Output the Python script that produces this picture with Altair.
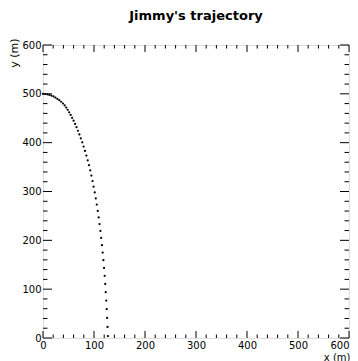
import altair as alt
import pandas as pd

# Trajectory points (x in m, y in m)
traj_x = [0.0, 4.2, 8.4, 12.5, 16.5, 20.5, 24.3, 28.1, 31.9, 35.6, 39.2, 42.5,
          45.5, 48.5, 51.3, 54.2, 57.1, 60.0, 62.9, 65.7, 68.5, 71.3, 74.1,
          76.9, 79.6, 82.4, 85.1, 87.7, 90.2, 92.6, 94.9, 97.1, 99.2, 101.4,
          103.5, 105.5, 107.4, 109.2, 110.9, 112.6, 114.1, 115.6, 117.0,
          118.4, 119.7, 120.9, 122.0, 123.0, 124.0, 124.9, 125.7, 126.5, 127.2]
traj_y = [500.0, 499.6, 498.9, 497.8, 496.4, 494.6, 492.4, 489.9, 487.0, 483.8,
          480.2, 476.2, 471.9, 467.2, 462.2, 456.8, 451.0, 444.9, 438.4, 431.6,
          424.4, 416.8, 408.9, 400.6, 392.0, 383.0, 373.6, 363.9, 353.8, 343.4,
          332.6, 321.4, 309.9, 298.0, 285.8, 273.2, 260.2, 246.9, 233.2, 219.2,
          204.8, 190.0, 174.9, 159.4, 143.6, 127.4, 110.8, 93.9, 76.6, 59.0,
          41.0, 22.6, 3.9]

major_ticks = [0, 100, 200, 300, 400, 500, 600]
minor_ticks = [20, 40, 60, 80, 120, 140, 160, 180, 220, 240, 260, 280,
               320, 340, 360, 380, 420, 440, 460, 480, 520, 540, 560, 580]

W, H = 306, 293
FONT = "DejaVu Sans"

sx = alt.Scale(domain=[0, 600], nice=False, zero=False)
sy = alt.Scale(domain=[0, 600], nice=False, zero=False)

ax_x = alt.Axis(values=major_ticks, format="d", title="x (m)",
                titleAlign="right", titleX=307, titleY=22,
                titleBaseline="alphabetic", titleFont=FONT, titleFontSize=10,
                titleFontWeight="normal", titleColor="black",
                labelFont=FONT, labelFontSize=10, labelColor="black",
                labelAlign={"condition": {"test": "datum.value == 600", "value": "right"},
                            "value": "center"},
                labelPadding=2, labelFlush=False, labelOverlap=False,
                ticks=False, tickSize=0, domain=False, grid=False)
ax_y = alt.Axis(values=major_ticks, format="d", title="y (m)",
                titleAngle=270, titleAlign="right", titleX=-29, titleY=-7,
                titleBaseline="middle", titleFont=FONT, titleFontSize=11,
                titleFontWeight="normal", titleColor="black",
                labelFont=FONT, labelFontSize=10, labelColor="black",
                labelPadding=2, labelFlush=False, labelOverlap=False,
                ticks=False, tickSize=0, domain=False, grid=False)

df = pd.DataFrame({"x": traj_x, "y": traj_y})
points = alt.Chart(df).mark_circle(size=5, color="black", opacity=1).encode(
    x=alt.X("x:Q", scale=sx, axis=ax_x),
    y=alt.Y("y:Q", scale=sy, axis=ax_y),
)

def xticks(vals, length, top):
    d = pd.DataFrame({"x": vals})
    if top:
        ya, yb = 0, length
    else:
        ya, yb = H, H - length
    return alt.Chart(d).mark_rule(color="black", strokeWidth=1).encode(
        x=alt.X("x:Q", scale=sx, axis=ax_x),
        y=alt.value(ya), y2=alt.value(yb))

def yticks(vals, length, right):
    d = pd.DataFrame({"y": vals})
    if right:
        xa, xb = W, W - length
    else:
        xa, xb = 0, length
    return alt.Chart(d).mark_rule(color="black", strokeWidth=1).encode(
        y=alt.Y("y:Q", scale=sy, axis=ax_y),
        x=alt.value(xa), x2=alt.value(xb))

layers = [
    xticks(major_ticks, 7, False), xticks(minor_ticks, 3.5, False),
    xticks(major_ticks, 7, True), xticks(minor_ticks, 3.5, True),
    yticks(major_ticks, 9, False), yticks(minor_ticks, 4.5, False),
    yticks(major_ticks, 9, True), yticks(minor_ticks, 4.5, True),
    points,
]

chart = alt.layer(*layers).properties(
    width=W, height=H,
    title=alt.TitleParams(text="Jimmy's trajectory", font=FONT, fontSize=13,
                          fontWeight="bold", anchor="middle", frame="group",
                          baseline="alphabetic", offset=5, color="black"),
    autosize=alt.AutoSizeParams(type="none"),
    padding={"left": 35, "top": 37, "right": 1, "bottom": 24},
).configure_view(stroke="black", strokeWidth=1.5).configure(background="white")

chart.save("out.html", embed_options={"renderer": "svg", "actions": False})
